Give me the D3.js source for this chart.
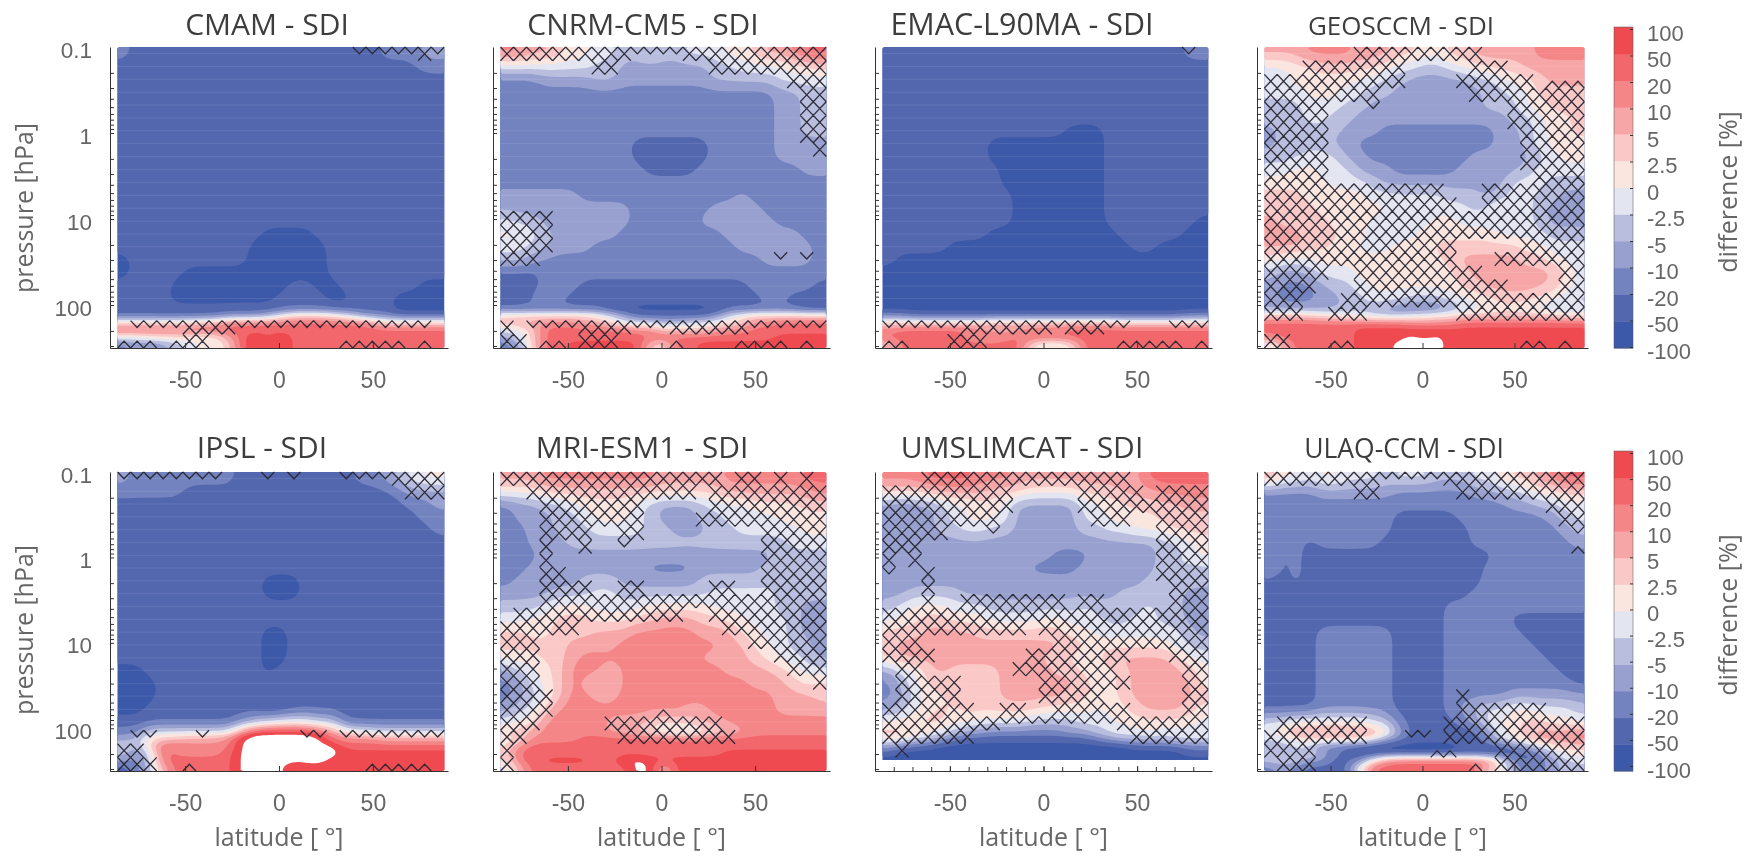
<!DOCTYPE html>
<html>
<head>
<meta charset="utf-8">
<script src="https://cdn.jsdelivr.net/npm/d3@7"></script>
<style>
  body { margin: 0; background: #fff; }
  svg { display: block; font-family: "Open Sans", sans-serif; filter: blur(0.4px); }
  .tick line, .domain { stroke: #333; }
</style>
</head>
<body>
<div id="chart"></div>
<script>
// colour bar
const colorTicks = [100, 50, 20, 10, 5, 2.5, 0, -2.5, -5, -10, -20, -50, -100];
const bandColors = ["#3c58a8", "#5367af", "#7383bf", "#97a0cf", "#b9bedf", "#e3e5f1",
                    "#fbe5df", "#fac8c6", "#f7a6a7", "#f58688", "#f2676b", "#ef4a50", "#ffffff"];
// a = -100..-50, b = -50..-20 ... l = 50..100, m = off the scale (left white)
const bandCodes = "abcdefghijklm";

// grid the fields are read on
const pressureLevels = [0.119, 0.168, 0.237, 0.335, 0.473, 0.668, 0.944, 1.33, 1.88, 2.66, 3.76, 5.31, 7.5,
                        10.6, 15, 21, 30, 42, 60, 84, 110, 133, 162, 196, 237, 287];
const latTicks = [-50, 0, 50];
const latMinor = [-80, -70, -60, -50, -40, -30, -20, -10, 0, 10, 20, 30, 40, 50, 60, 70, 80];
const pressureTicks = [0.1, 1, 10, 100];
const pressureMinor = [0.2, 0.3, 0.4, 0.5, 0.6, 0.7, 0.8, 0.9, 1, 2, 3, 4, 5, 6, 7, 8, 9, 10, 20, 30, 40, 50, 60, 70, 80, 90, 100, 200, 300];

const cmamField = [
  "cbbbbbbbbbbbbbbbbbbbcccdd",
  "bbbbbbbbbbbbbbbbbbbbbbbcc",
  "bbbbbbbbbbbbbbbbbbbbbbbbb",
  "bbbbbbbbbbbbbbbbbbbbbbbbb",
  "bbbbbbbbbbbbbbbbbbbbbbbbb",
  "bbbbbbbbbbbbbbbbbbbbbbbbb",
  "bbbbbbbbbbbbbbbbbbbbbbbbb",
  "bbbbbbbbbbbbbbbbbbbbbbbbb",
  "bbbbbbbbbbbbbbbbbbbbbbbbb",
  "bbbbbbbbbbbbbbbbbbbbbbbbb",
  "bbbbbbbbbbbbbbbbbbbbbbbbb",
  "bbbbbbbbbbbbbbbbbbbbbbbbb",
  "bbbbbbbbbbbbbbbbbbbbbbbbb",
  "bbbbbbbbbbbbbbbbbbbbbbbbb",
  "bbbbbbbbbbbaaaabbbbbbbbbb",
  "bbbbbbbbbbaaaaaabbbbbbbbb",
  "abbbbbbbbbaaaaaabbbbbbbbb",
  "abbbbaaaaaaaaaaabbbbbbbbb",
  "bbbbaaaaaaaaabbaabbbbbbaa",
  "bbbbaaaaaaaabbbbaabbbaaaa",
  "bbbbbbbbbbbbbbbbbbbbbaaaa",
  "bbbbbbbbcccdfhhhgfdccbbbb",
  "hhhhhhiikkkkkkkkkkkjhhhhh",
  "kkkkkkkkkkkkkkkkkkkkkkkkk",
  "ffggggfgikmkmkkkkkkkkkkkk",
  "cdcdefgfhkmkmkkkkkkkkkkkk"
];
const cmamHatch = [
  "..................vvvvvxv", "", "", "", "", "", "", "", "", "", "",
  "", "", "", "", "", "", "", "", "",
  ".vvvvxxxxvvvvvvvvvvvvvvv.",
  "nnn.nxx..........nnnnn.n."
];

const cnrmField = [
  "jjiihggffeefeefffgghiijkk",
  "fffffffeedddddddeeffffggh",
  "cccddddeedddddddeeeeeffff",
  "cccccccccccccccccccccddee",
  "cccccccccccccccccccccddee",
  "cccccccccccccccccccccddee",
  "cccccccccccccccccccccddee",
  "ccccccccccbbbbbbcccccdddd",
  "ccccccccccbbbbbbcccccdddd",
  "cccccccccccbbbbccccccccdd",
  "ccccccccccccccccccccccccc",
  "ddddddccccccccccccdcccccc",
  "ddddddddddccccccddddccccc",
  "feedddddddcccccddddddcccc",
  "ggfedddddccccccccddddddcc",
  "ffeedddcccccbcccccddddddc",
  "eedcccccccccccccccccddddc",
  "bbbcccccccccccccccccccccc",
  "bbbcccbbbbbbbbbbbbbcccccb",
  "bbcccbbbbbbbbbbbbbbbccbbb",
  "bbbbbbbbaaaaaaaaabbbbbbaa",
  "hhhhhhhgfdbbbbbbcfghhhhhh",
  "hiijjjiigfffeeffgghjjkkkk",
  "ffhkkkkkkkjjhhhhijjkkkkkk",
  "dfhkkkkkkkkkkkkkkkkkkllll",
  "cdhkkllllllhgkkllllllllll"
];
const cnrmHatch = [
  "xxxxxxxxxxvvvvxxxxxxxxxxx",
  ".......xx.......xxxxxxxxx",
  "......................xxx",
  ".......................xx",
  ".......................xx",
  ".......................xx",
  ".......................xx",
  "........................x",
  "", "", "", "",
  "xxxx", "xxxx", "xxxx",
  "xxx..................v.v.",
  "", "", "", "",
  "x.vvvvxxxxvvvxxxxxxvvvvvv",
  "xx.nn.xxx....n....nnnn.n."
];

const emacField = [
  "bbbbbbbbbbbbbbbbbbbbbbbcc",
  "bbbbbbbbbbbbbbbbbbbbbbbbb",
  "bbbbbbbbbbbbbbbbbbbbbbbbb",
  "bbbbbbbbbbbbbbbbbbbbbbbbb",
  "bbbbbbbbbbbbbbbbbbbbbbbbb",
  "bbbbbbbbbbbbbbbbbbbbbbbbb",
  "babbbbbbbbbbbbaaabbbbbbbb",
  "bbbbbbbbaaaaaaaaabbbbbbbb",
  "bbbbbbbbaaaaaaaaabbbbbbbb",
  "bbbbbbbbbaaaaaaaabbbbbbbb",
  "bbbbbbbbbaaaaaaaabbbbbbbb",
  "bbbbbbbbbbaaaaaaabbbbbbbb",
  "bbbbbbbbbbaaaaaaabbbbbbbb",
  "bbbbbbbbbbaaaaaaabbbbbbba",
  "bbbbbbbbaaaaaaaaaabbbbbaa",
  "bbbbbaaaaaaaaaaaaaabbaaaa",
  "baaaaaaaaaaaaaaaaaaaaaaaa",
  "aaaaaaaaaaaaaaaaaaaaaaaaa",
  "aaaaaaaaaaaaaaaaaaaaaaaaa",
  "aaaaaaaaaaaaaaaaaaaaaaaaa",
  "aaaaaaaaaaaaaaaaaaaaaaaaa",
  "ccbbbbbbbbbbbbbbbbbbbbbcc",
  "hhhhhhhhiiiiiiiiiihhhhhhh",
  "jkkkkkkjjiijjjkkkkkkkkkkk",
  "kkkkkkjiijkkkkkkkkkkkkkkk",
  "hkkkkkkkkkkgffgkkkkkkkkkk"
];
const emacHatch = [
  ".......................v.", "", "", "", "", "", "", "", "", "", "",
  "", "", "", "", "", "", "", "", "",
  "vvvvvvxxxxxxxvxxxvv...vvv",
  "nn...xxx..........nnnnn.n"
];

const geosField = [
  "iiijjjjiiihhgghhiiiiijjjj",
  "ffgghhhhhgffeefgghhhiiiii",
  "ffgggggffeedddddeefgghiii",
  "fffgggffeedddddddeeffhhhh",
  "eeefffeedddddddddeeegghhh",
  "eeeffeeddddddddddddeefggh",
  "deeeeedddcccccccccddefggh",
  "deeeeddcccccccccccddefggg",
  "eeefffddccccccccdddddefgg",
  "ffggfffdddcccccdddddeffff",
  "gggggfffeddddddddddfffeee",
  "hhhgggggffffffeeedeffeedd",
  "hhhhggggggffffffefgffeddd",
  "ihhhhgggfffffggffffffeddd",
  "iiihhhggffffggggggffffeee",
  "iiihhggfffggghhhhhhhggfff",
  "gfffgggggggggghiiiiihhgff",
  "eddefffgggggggghiiiiiiihf",
  "dcccdeefggggggghhiiiiihgf",
  "dcccddeefffeeeffgghhhggfe",
  "ddddddeeedccccdeffggffeef",
  "hhhhggffeeeffgghhhhhhhhgg",
  "kkkkkkkkkkkjjjjkkkkkkkkkk",
  "kkkkkkkllllllllllllllllll",
  "jkkkkkkllllmlmlllllllllll",
  "fikkkkklllmmmmlllllllllll"
];
const geosHatch = [
  ".......xxxxxxxxxx",
  "...xxxxxxxx.....xxx",
  "xxxxxxxxxxx....xxxxxx.nnn",
  "xxxxxxxxx.......xxxxxxxxx",
  "xxxxx...v..........xxxxxx",
  "xxxxx..............xxxxxx",
  "xxxxx...............xxxxx",
  "xxxxx...............xxxxx",
  "xxxxx...............xxxxx",
  "xxxxx................xxxx",
  "xxxxxxxxxxxxxx...xxxxxxxx",
  "xxxxxxxxxxxxxxx..xxxxxxxx",
  "xxxxxxxxxxxxxxxxxxxxxxxxx",
  "xxxxxxxxxxxxxxxxxxxxxxxxx",
  "xxxxxxxxxxxxxxx.....xxxxx",
  "xxxxxxxxxxxxxxx...xxxxxxx",
  "xxxxx..xxxxxxxxxx......xx",
  "xxxx...xxxxxxxxxxxx....xx",
  "xxx...xxxxxxxxxxxxxxxxxxx",
  "xxx..xxx.......xxxxxxxxxx",
  "",
  "xx...nn.............nn.n."
];

const ipslField = [
  "dccccccccbbbbbbbbbccdefgg",
  "cccccbbbbbbbbbbbbbbbbcddd",
  "bbbbbbbbbbbbbbbbbbbbbbccd",
  "bbbbbbbbbbbbbbbbbbbbbbbcc",
  "bbbbbbbbbbbbbbbbbbbbbbbbc",
  "bbbbbbbbbbbbbbbbbbbbbbbbb",
  "bbbbbbbbbbbbbbbbbbbbbbbbb",
  "bbbbbbbbbbbbbbbbbbbbbbbbb",
  "bbbbbbbbbbbaaabbbbbbbbbbb",
  "bbbbbbbbbbbaaabbbbbbbbbbb",
  "bbbbbbbbbbbbbbbbbbbbbbbbb",
  "bbbbbbbbbbbbbbbbbbbbbbbbb",
  "bbbbbbbbbbbaabbbbbbbbbbbb",
  "bbbbbbbbbbbaabbbbbbbbbbbb",
  "bbbbbbbbbbbaabbbbbbbbbbbb",
  "aabbbbbbbbbabbbbbbbbbbbbb",
  "aaabbbbbbbbbbbbbbbbbbbbbb",
  "aaabbbbbbbbbbbbbbbbbbbbbb",
  "aabbbbbbbbbaabbbbbbbbbbbb",
  "bbbbbbbbbcdefffeebbbbbbbb",
  "ccfffffffjmmmmmkjggffffff",
  "deghhiiijmmmmmmmjjjjiiiii",
  "fdhkkjjjjmmmmmmmmkkkkkkkk",
  "ecfkjjjjkmmmmmmmmllllllll",
  "dcekkkkkkmmmmmmmlllllllll",
  "bceikkkkkmmmmklllllllllll"
];
const ipslHatch = [
  "vvvvvvvv...v.v...vvvvxxxx",
  "......................xxx",
  "", "", "", "", "", "", "", "", "",
  "", "", "", "", "", "", "", "",
  ".vv...v.......vv.vvvvvvvv",
  "xx",
  "xxx..n.............nnnnn."
];

const mriField = [
  "iiijjjjjjjjjiiiiijjjjjjkk",
  "ggghhhhhhhhhhhhhhiiiiiiij",
  "cddeefggggfedddefffgggghh",
  "cdddeefgggfedddeeffffgggg",
  "ccddeeeffffeedddeefffffgg",
  "ccdddeeeeeeeeeeeeeeeeefff",
  "cccddddddddddddddddddeeee",
  "ccdddddddddccccdddddeeeee",
  "cdddddeeeddddddeeeeeefeee",
  "ddddeeeffeeeeeeefffffeeee",
  "eeefgggffffgggggfffffeedd",
  "ffgghhhggghhiiihhggfffedd",
  "hhgghhhiiijjjjjiiiggffedd",
  "hhhhhiiiijjjjjjjjiiggfeed",
  "ggghhijjjjjjjjjiiiihgffed",
  "dffghjjjhjjjjjjjjiiiihgff",
  "cdfghjihhjjjjjjjjjjiiihgh",
  "cdefhjjiijjjjjjjjjjjjiiih",
  "defhjjjjjjjjjjiijjjjjiiii",
  "fggjjjjjiiihghhiijjjjjjjj",
  "hhijjjjjiihgfeefghijjjjjj",
  "ggjjjjkkkkkkkkkkkkkkkkkkk",
  "gjkkkkkkkkkkkkkkkkkkkkkkk",
  "hkkkkkkkkkkkkkkkkllllllll",
  "gkkllllkkmmllllllllllllll",
  "fikkkkkkkkmmhllllllllllll"
];
const mriHatch = [
  "xxxxxxxxxxxxxxxxx.xx.x.x.",
  "..xxxxxxxxxxxxx.xxxxxxxxx",
  "...xxxxxxxx.....xxxxxxxxx",
  "...xxxxxxxx....xxxxxxxxxx",
  "...xxxx..xx.........xxxxx",
  "...x..x..v..........xxxxx",
  "...x................xxxxx",
  "...xx...............xxxxx",
  "...xxxx..xx.....xx..xxxxx",
  "...xxxxxxxxxxxxxxxxxxxxxx",
  ".xxxxxxxxxxxxx..xxxxxxxxx",
  "xxxxxx...........xxxxxxxx",
  "xxx................xxxxxx",
  "xxx..................xxxx",
  "xxx...................xxx",
  "xxx.....................x",
  "xxxx",
  "xxxx........n",
  "xxx.....xxxxxxxxx",
  "xx.......xxxxxxxxx",
  "x",
  "x"
];

const umslField = [
  "jjjkkkkjjjiiiiiiiiiikkkkk",
  "hhhhiiiihhhgggghhhiiijjjj",
  "dcddeffggfdddddffgghhhhii",
  "dcddefgggfdddddffgggghhhh",
  "ddddeeffeedddddeeffggghhh",
  "dcdddddddddddddddddddeefg",
  "dddddddddddddcccdddddeefg",
  "dddddddddddccccddddddefee",
  "ddddddddddddddddddddeeeee",
  "ddeeeeddddddddddddeeeeedd",
  "efgggfffeeeeeeefeeeefeedd",
  "fgghhgggffffggfffeeffeedd",
  "hhhiiiihhhhhhhggfffffffed",
  "hiiiiiiiiiiiiihhggggggfee",
  "hiiiiiiiiiiihhgggiiiiihgf",
  "dffhihhhhiiiihhggghiiiihg",
  "cefhhhhhhiiiiiihgghiiiiig",
  "cdfgghhhhiiiiihhgghiiiiih",
  "defghghhhhhhggggfgghiiihg",
  "gghhhggffffeeeefffggggggf",
  "hhggfeddccccccddefffgffff",
  "ggfedcbbbbbbbbbbcdeeeefff",
  "dcbbaaaaaaaaaaaaaaabbbbcc",
  "baaaaaaaaaaaaaaaaaaaaaabb",
  "aaaaaaaaaaaaaaaaaaaaaaaaa",
  "aaaaaaaaaaaaaaaaaaaaaaaaa"
];
const umslHatch = [
  "...xxxxxxxxxxxxxxxx",
  "xxxxxxxxxx.....xxxxx.xxxx",
  "xxxxxxxxxx.....xxxxxxxxxx",
  "xxxxxxxxx.......xxx..xxxx",
  "xxxxx...v............xxxx",
  "xxx..................xxxx",
  "x.x..................xxxx",
  "v..x.................xxxx",
  "...x..................xxx",
  "...x..xxxxxxxx.xx.....xxx",
  "xxxxxxxxxxxxxxxxxxxxxxxxx",
  "xxxxxxxxxxx.xxxxxxxxxxxxx",
  "xxx..........xxxxxxxxxxxx",
  "xxxx.......xxxxxxxx...xxx",
  ".xx.......xxxxxxxx.....xx",
  ".xxxxx......xxxxxxx....xx",
  ".xxxxx......xxxxx......xx",
  "xxxxxxx..xx..xxxxxx....xx",
  "xxxxxxxxxvvvvvvvvvxxxxxxx",
  "xxxxxxx............xxxxxx",
  ".x",
  ""
];

const ulaqField = [
  "iggfggfffefffeeeffghhijkk",
  "ccccddddddccccccddeefgghh",
  "cccccccccccccccccccddeeff",
  "ccccccccccbbbbbcccccccdef",
  "ccccccccccbbbbbbcccccccde",
  "cccbcccccbbbbbbbccccccccd",
  "cbcbbbbbbbbbbbbbbbccccccc",
  "dbcbbbbbbbbbbbbbbcccccccc",
  "bbcbbbbbbbbbbbbbbcccccccc",
  "bbbbbbbbbbbbbbbbccccccccc",
  "bbbbbbbbbbbbbbccccccccccc",
  "bbbbbbbbbbbbbbcccccbbbbbb",
  "bbbbccccccbbbbccccccbbbbb",
  "bbbbccccccbbbbcccccccbbbb",
  "bbbbccccccbbbbccccccccbbb",
  "bbbbccccccbbbbcccccccccbb",
  "bbbbccccccbbbbccccccccccb",
  "bbbbccccccbbbbcccccdddddd",
  "bbbbccccccbbbbcdeffggfffe",
  "ffggggggfecbbbbcdfgghhggf",
  "fhiiiiiiihdbbbbbbdfghiiij",
  "ffghhhhhgdcbbbbbbcfghiiij",
  "deeeccbbaaaaaaabbbbcdfghh",
  "feffdcbaaaaaaaaaaaabbcegg",
  "efeddbbcgjkkkkkkkjgcbcdef",
  "cdcbbbbgkkkkkkkkkhgdccdee"
];
const ulaqHatch = [
  "xxxxxxxxxvvvvvxxxxxxxxxxx",
  ".......xx......xxxxxxxxxx",
  "......................xxx",
  ".......................xx",
  "........................v",
  "........................n",
  "", "", "", "", "", "", "", "", "", "",
  "...............x",
  "...............xxxxxxx",
  ".xxxxxxx......xxxxxxxxxxx",
  "xxxxxxxx...vv.xxxxxxxxxxx",
  "xxxx.........nn...xxxxxxx",
  ".xxx............n.xxxxxxx"
];

const panels = [
  {title: "CMAM - SDI", field: cmamField, hatch: cmamHatch, col: 0, row: 0, tx: 267, fs: 30},
  {title: "CNRM-CM5 - SDI", field: cnrmField, hatch: cnrmHatch, col: 1, row: 0, tx: 643, fs: 30},
  {title: "EMAC-L90MA - SDI", field: emacField, hatch: emacHatch, col: 2, row: 0, tx: 1022, fs: 30.5},
  {title: "GEOSCCM - SDI", field: geosField, hatch: geosHatch, col: 3, row: 0, tx: 1401, fs: 26},
  {title: "IPSL - SDI", field: ipslField, hatch: ipslHatch, col: 0, row: 1, tx: 262, fs: 30},
  {title: "MRI-ESM1 - SDI", field: mriField, hatch: mriHatch, col: 1, row: 1, tx: 642, fs: 30},
  {title: "UMSLIMCAT - SDI", field: umslField, hatch: umslHatch, col: 2, row: 1, tx: 1022, fs: 30, floor: 235},
  {title: "ULAQ-CCM - SDI", field: ulaqField, hatch: ulaqHatch, col: 3, row: 1, tx: 1404, fs: 26.5}
];

const W = 1763, H = 856;
const colLeft = [110, 493, 875, 1257], colWidth = [338, 337, 337, 331];
const rowTop = [47, 472], rowBottom = [348, 771];
const titleBase = [35, 458];
const nx = 25, ny = 26, hatchRows = 22;
const fine = 4; // contours run on a 4x resampled grid so the edges come out round

const svg = d3.select("#chart").append("svg").attr("width", W).attr("height", H);

const contours = d3.contours().size([nx * fine, ny * fine]).thresholds(d3.range(0, 13));

// band letters -> band position, bilinear onto the fine grid, then a light blur
function fineField(rows) {
  const coarse = rows.map(row => {
    const r = row.padEnd(nx, row[row.length - 1]).slice(0, nx);
    return Array.from(r, c => bandCodes.indexOf(c) + 0.5);
  });
  const data = [];
  for (let j = 0; j < ny * fine; j++) {
    const fy = Math.min(ny - 1, Math.max(0, (j + 0.5) / fine - 0.5));
    const j0 = Math.floor(fy), j1 = Math.min(ny - 1, j0 + 1), ty = fy - j0;
    for (let i = 0; i < nx * fine; i++) {
      const fx = Math.min(nx - 1, Math.max(0, (i + 0.5) / fine - 0.5));
      const i0 = Math.floor(fx), i1 = Math.min(nx - 1, i0 + 1), tx = fx - i0;
      data.push((coarse[j0][i0] * (1 - tx) + coarse[j0][i1] * tx) * (1 - ty)
              + (coarse[j1][i0] * (1 - tx) + coarse[j1][i1] * tx) * ty);
    }
  }
  d3.blur2({data, width: nx * fine, height: ny * fine}, 1.5);
  return data;
}

panels.forEach(p => {
  const x = d3.scaleLinear().domain([-90, 90]).range([colLeft[p.col], colLeft[p.col] + colWidth[p.col]]);
  const y = d3.scaleLog().domain([0.1, 316.2]).range([rowTop[p.row], rowBottom[p.row]]);
  const gridX = d3.scaleLinear().domain([0, nx]).range([x(-86), x(88)]);
  const gridY = d3.scaleLinear()
    .domain([0, ...pressureLevels.map((_, i) => i + 0.5), ny])
    .range([y(0.1), ...pressureLevels.map(y), y(316.2)]);
  const hatchY = d3.scaleBand().domain(d3.range(hatchRows)).range(y.range());

  const g = svg.append("g");

  const path = d3.geoPath(d3.geoTransform({
    point(a, b) { this.stream.point(gridX(a / fine), gridY(b / fine)); }
  }));
  g.append("g").selectAll("path")
    .data(contours(fineField(p.field)))
    .join("path")
    .attr("d", path)
    .attr("fill", d => bandColors[d.value]);

  // the faint seams between model levels
  g.append("g").selectAll("line")
    .data(pressureLevels.slice(0, 20))
    .join("line")
    .attr("x1", gridX(0)).attr("x2", gridX(nx))
    .attr("y1", d => y(d)).attr("y2", d => y(d))
    .attr("stroke", "#fff").attr("stroke-opacity", 0.1);

  if (p.floor) {
    g.append("rect")
      .attr("x", gridX(0) - 1).attr("width", gridX(nx) - gridX(0) + 2)
      .attr("y", y(p.floor)).attr("height", y.range()[1] - y(p.floor))
      .attr("fill", "#fff");
    // minor ticks only show where the data stop short
    g.append("g")
      .attr("transform", `translate(0,${y.range()[1]})`)
      .call(d3.axisBottom(x).tickValues(latMinor).tickSize(-4).tickFormat(""))
      .call(a => a.select(".domain").remove());
  }

  // hatching: x, v (upper arms) or n (lower arms) per lattice cell
  const ax = (gridX(1) - gridX(0)) / 2, ay = hatchY.bandwidth() / 2;
  let h = "";
  p.hatch.forEach((row, j) => {
    const cy = hatchY(j) + ay;
    for (let i = 0; i < row.length; i++) {
      const cx = gridX(i + 0.5), c = row[i];
      if (c === "x" || c === "v") h += `M${cx - ax},${cy - ay}L${cx},${cy}L${cx + ax},${cy - ay}`;
      if (c === "x" || c === "n") h += `M${cx - ax},${cy + ay}L${cx},${cy}L${cx + ax},${cy + ay}`;
    }
  });
  g.append("path").attr("d", h).attr("fill", "none")
    .attr("stroke", "#262630").attr("stroke-width", 1.3).attr("stroke-opacity", 0.95);

  // axes
  g.append("g")
    .attr("transform", `translate(${x(-90)},0)`)
    .call(d3.axisRight(y).tickValues(pressureMinor).tickSize(4).tickSizeOuter(0).tickFormat(""));
  if (p.col === 0) {
    g.append("g")
      .attr("transform", `translate(${x(-90)},0)`)
      .call(d3.axisLeft(y).tickValues(pressureTicks).tickSize(0).tickPadding(18).tickFormat(d3.format("~g")))
      .call(a => a.select(".domain").remove())
      .selectAll("text").attr("font-size", 22.5).attr("fill", "#666").attr("dy", "0.45em");
  }
  g.append("g")
    .attr("transform", `translate(0,${y.range()[1]})`)
    .call(d3.axisBottom(x).tickValues(latTicks).tickSizeInner(-5).tickSizeOuter(0).tickPadding(24).tickFormat(d3.format("d")))
    .selectAll("text").attr("font-size", 23).attr("fill", "#666")
    .text(d => d < 0 ? "-" + Math.abs(d) : d);

  g.append("text")
    .attr("x", p.tx).attr("y", titleBase[p.row])
    .attr("text-anchor", "middle").attr("font-size", p.fs).attr("fill", "#3d3d3d")
    .text(p.title);

  if (p.row === 1) {
    g.append("text")
      .attr("x", x(0)).attr("y", 846)
      .attr("text-anchor", "middle").attr("font-size", 25).attr("fill", "#666")
      .text("latitude [ °]");
  }
  if (p.col === 0) {
    g.append("text")
      .attr("transform", `translate(33,${p.row === 0 ? 208 : 630}) rotate(-90)`)
      .attr("text-anchor", "middle").attr("font-size", 25).attr("fill", "#666")
      .text("pressure [hPa]");
  }
});

// colour bars, one per row
[0, 1].forEach(r => {
  const top = r === 0 ? 27 : 451, bottom = rowBottom[r];
  const barY = d3.scaleLinear().domain([0, 12]).range([bottom, top]);
  const g = svg.append("g");
  g.selectAll("rect")
    .data(d3.range(12))
    .join("rect")
    .attr("x", 1614).attr("width", 19)
    .attr("y", d => barY(d + 1)).attr("height", d => barY(d) - barY(d + 1) + 0.5)
    .attr("fill", d => bandColors[d]);
  g.append("rect")
    .attr("x", 1614).attr("width", 19).attr("y", top).attr("height", bottom - top)
    .attr("fill", "none").attr("stroke", "#555").attr("stroke-opacity", 0.5);
  const labels = d3.scalePoint().domain(colorTicks).range([top + 2, bottom - (r === 0 ? 1 : 5)]);
  g.append("g")
    .attr("transform", "translate(1633,0)")
    .call(d3.axisRight(labels).tickSizeInner(-3).tickSizeOuter(0).tickPadding(14))
    .call(a => a.select(".domain").remove())
    .selectAll("text").attr("font-size", 22).attr("fill", "#666").attr("dy", "0.5em");
  g.append("text")
    .attr("transform", `translate(1737,${r === 0 ? 192 : 615}) rotate(-90)`)
    .attr("text-anchor", "middle").attr("font-size", 25).attr("fill", "#666")
    .text("difference [%]");
});
</script>
</body>
</html>
